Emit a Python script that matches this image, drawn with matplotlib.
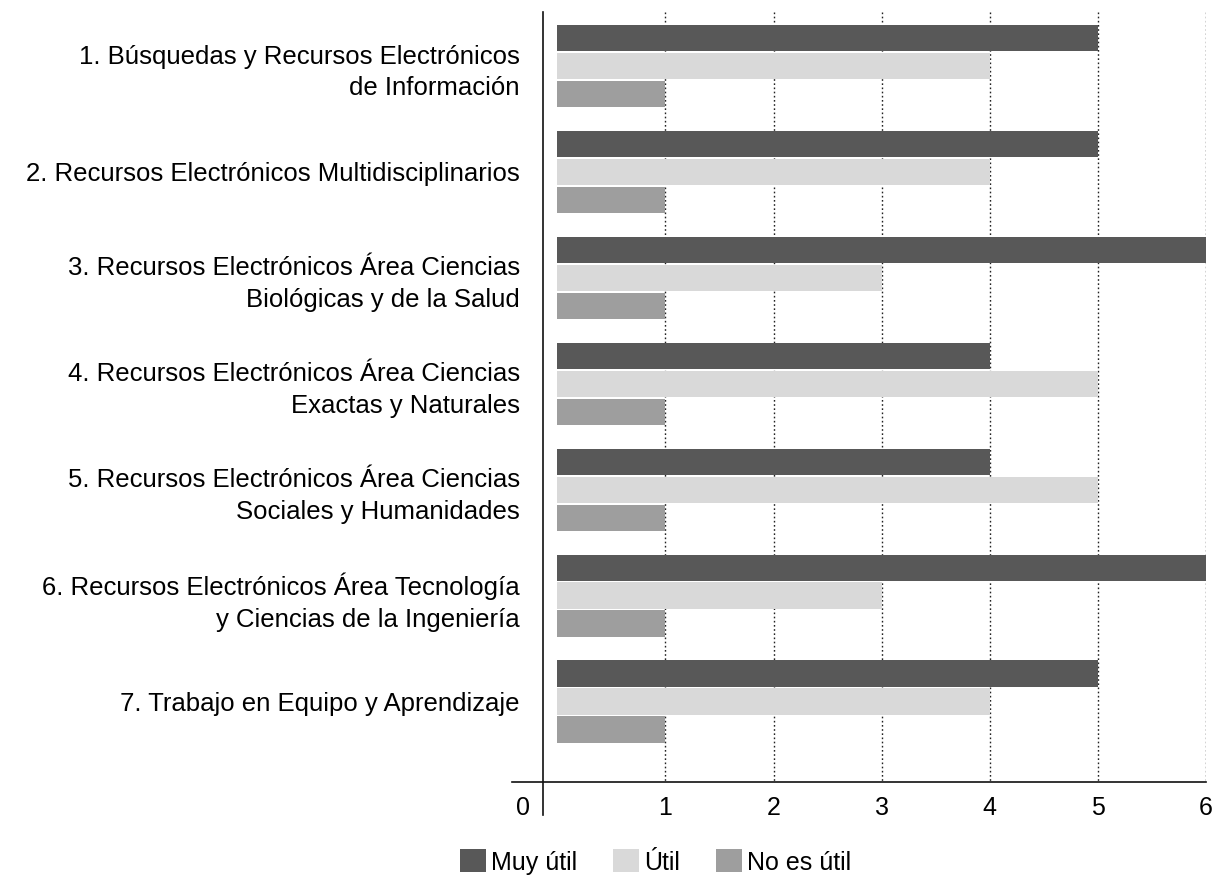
import matplotlib.pyplot as plt
import numpy as np

categories = [
    "1. Búsquedas y Recursos Electrónicos\nde Información",
    "2. Recursos Electrónicos Multidisciplinarios",
    "3. Recursos Electrónicos Área Ciencias\nBiológicas y de la Salud",
    "4. Recursos Electrónicos Área Ciencias\nExactas y Naturales",
    "5. Recursos Electrónicos Área Ciencias\nSociales y Humanidades",
    "6. Recursos Electrónicos Área Tecnología\ny Ciencias de la Ingeniería",
    "7. Trabajo en Equipo y Aprendizaje",
]
muy_util = [5, 5, 6, 4, 4, 6, 5]
util = [4, 4, 3, 5, 5, 3, 4]
no_es_util = [1, 1, 1, 1, 1, 1, 1]
series_names = ["Muy útil", "Útil", "No es útil"]
x_ticks = [1, 2, 3, 4, 5, 6]

plt.rcParams['font.family'] = ['Liberation Sans', 'DejaVu Sans']

fig = plt.figure(figsize=(12.12, 8.76), dpi=100)
ax = fig.add_axes([0.4224, 0.0696, 0.5726, 0.9167])

y = np.arange(len(categories))
h = 0.25
step = 0.264
colors = ['#585858', '#d9d9d9', '#9e9e9e']

# dotted guides behind the bars
ax.vlines(x_ticks, -0.51, 6.755, colors='#222222', linestyles=(0, (1.2, 1.8)),
          linewidth=1.0, zorder=0)

for vals, off, c, name in zip([muy_util, util, no_es_util], [-step, 0, step], colors, series_names):
    ax.barh(y + off, vals, height=h, color=c, label=name, zorder=2)

ax.set_xlim(-0.42, 6)
ax.set_ylim(7.07, -0.51)

ax.spines['top'].set_visible(False)
ax.spines['right'].set_visible(False)
ax.spines['left'].set_position(('data', -0.13))
ax.spines['bottom'].set_position(('data', 6.755))
for s in ['left', 'bottom']:
    ax.spines[s].set_linewidth(1.2)
    ax.spines[s].set_color('#111111')

ax.set_yticks(y)
ax.set_yticklabels(categories, fontsize=18.5, linespacing=1.4, ha='right')
# the "0" sits left of the vertical axis in the original
ax.set_xticks([-0.32] + x_ticks)
ax.set_xticklabels(['0'] + [str(t) for t in x_ticks], fontsize=18)
ax.tick_params(axis='y', length=0, pad=17)
ax.tick_params(axis='x', length=0, pad=10)

fig.legend(loc='center', bbox_to_anchor=(0.541, 0.016), ncol=3, frameon=False,
           fontsize=18, handlelength=1.04, handleheight=1.04, handletextpad=0.2,
           columnspacing=1.45)

fig.savefig('out.png', dpi=100)
